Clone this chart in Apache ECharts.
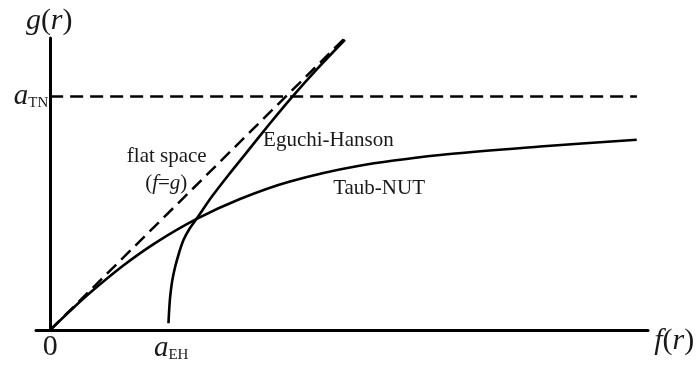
<!DOCTYPE html>
<html>
<head>
<meta charset="utf-8">
<script src="https://cdn.jsdelivr.net/npm/echarts@6/dist/echarts.min.js"></script>
<style>
  html, body { margin: 0; padding: 0; background: #fff; }
  #main { width: 698px; height: 365px; }
</style>
</head>
<body>
<div id="main"></div>
<script>
// values in units of a_TN
var aTN = 1;
var flatSpace = [[0, 0], [1.257, 1.257]];
var tnLevel = [[0, aTN], [2.488, aTN]];
var eguchiHanson = [
  [0.5017, 0.0287], [0.5047, 0.0856], [0.5089, 0.1426], [0.5174, 0.2098],
  [0.5301, 0.2710], [0.5471, 0.3318], [0.5653, 0.3853], [0.5916, 0.4345],
  [0.6222, 0.4782], [0.6858, 0.5713], [0.7579, 0.6659], [0.8300, 0.7562],
  [0.9317, 0.8838], [1.0208, 0.9917], [1.1353, 1.1209], [1.2498, 1.2425]
];
var taubNut = [
  [0, 0], [0.0842, 0.0813], [0.169, 0.1592], [0.3102, 0.2761], [0.4518, 0.3763],
  [0.6214, 0.4756], [0.8050, 0.5608], [1.0170, 0.6357], [1.2998, 0.7012],
  [1.6530, 0.7491], [2.0771, 0.7855], [2.4871, 0.8146]
];

var serif = '"Liberation Serif", "DejaVu Serif", serif';
var ink = '#1a1a1a';

var rich = {
  i: { fontFamily: serif, fontStyle: 'italic', fontSize: 30, color: ink },
  n: { fontFamily: serif, fontSize: 30, color: ink },
  a: { fontFamily: serif, fontStyle: 'italic', fontSize: 29, color: ink },
  s: { fontFamily: serif, fontSize: 15, color: ink, verticalAlign: 'bottom', lineHeight: 12 },
  t: { fontFamily: serif, fontSize: 21, color: ink },
  ti: { fontFamily: serif, fontSize: 21, fontStyle: 'italic', color: ink },
  z: { fontFamily: serif, fontSize: 30, color: ink }
};

function note(x, y, text, pos) {
  return {
    value: [x, y],
    label: { show: true, position: pos || 'inside', distance: 0, formatter: text, rich: rich }
  };
}

var notes = [
  note(-0.004, 1.321, '{i|g}{n|(}{i|r}{n|)}'),
  note(2.646, -0.047, '{i|f}{n|(}{i|r}{n|)}'),
  note(0, -0.075, '{z|0}'),
  note(-0.008, 1.0, '{a|a}{s|TN}', 'left'),
  note(0.513, -0.078, '{a|a}{s|EH}'),
  note(0.325, 0.741, '{t|flat space}', 'right'),
  note(0.403, 0.629, '{t|(}{ti|f}{t|=}{ti|g}{t|)}', 'right'),
  note(0.903, 0.810, '{t|Eguchi-Hanson}', 'right'),
  note(1.200, 0.604, '{t|Taub-NUT}', 'right')
];

var chart = echarts.init(document.getElementById('main'));

var axisStyle = { show: true, onZero: true, lineStyle: { color: '#000', width: 3 } };

var option = {
  animation: false,
  grid: { left: 36, right: 50, top: 38, bottom: 35 },
  xAxis: {
    type: 'value', min: -0.06, max: 2.535,
    axisLine: axisStyle, axisTick: { show: false }, axisLabel: { show: false }, splitLine: { show: false }
  },
  yAxis: {
    type: 'value', min: 0, max: 1.25,
    axisLine: axisStyle, axisTick: { show: false }, axisLabel: { show: false }, splitLine: { show: false }
  },
  series: [
    {
      type: 'line', data: flatSpace, symbol: 'none', silent: true,
      lineStyle: { color: '#000', width: 2.5, type: [13, 7] }
    },
    {
      type: 'line', data: tnLevel, symbol: 'none', silent: true,
      lineStyle: { color: '#000', width: 2.5, type: [13, 7] }
    },
    {
      type: 'line', data: eguchiHanson, symbol: 'none', smooth: 0.3, silent: true,
      lineStyle: { color: '#000', width: 2.6 }
    },
    {
      type: 'line', data: taubNut, symbol: 'none', smooth: 0.3, silent: true,
      lineStyle: { color: '#000', width: 2.6 }
    },
    {
      type: 'scatter', data: notes, symbolSize: 0, clip: false, silent: true,
      itemStyle: { opacity: 1 }
    }
  ]
};
option && chart.setOption(option);
</script>
</body>
</html>
